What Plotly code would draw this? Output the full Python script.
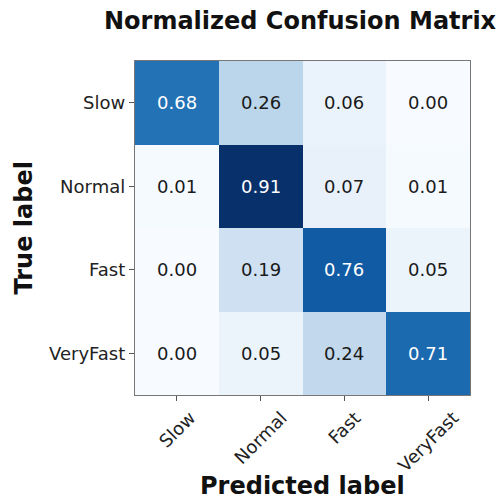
import plotly.graph_objects as go

classes = ["Slow", "Normal", "Fast", "VeryFast"]
matrix = [
    [0.68, 0.26, 0.06, 0.00],
    [0.01, 0.91, 0.07, 0.01],
    [0.00, 0.19, 0.76, 0.05],
    [0.00, 0.05, 0.24, 0.71],
]
title_text = "Normalized Confusion Matrix"
x_title = "Predicted label"
y_title = "True label"

blues = ["#f7fbff", "#deebf7", "#c6dbef", "#9ecae1", "#6baed6",
         "#4292c6", "#2171b5", "#08519c", "#08306b"]
colorscale = [[i / (len(blues) - 1), c] for i, c in enumerate(blues)]

vmax = max(max(r) for r in matrix)
thresh = vmax / 2.0

fig = go.Figure(go.Heatmap(
    z=matrix, x=classes, y=classes,
    colorscale=colorscale, zmin=0, zmax=vmax,
    showscale=False, xgap=0, ygap=0, hoverinfo="skip",
))

font_family = "DejaVu Sans"
annotations = []
for i, row in enumerate(matrix):
    for j, v in enumerate(row):
        annotations.append(dict(
            x=classes[j], y=classes[i], xref="x", yref="y",
            text=f"{v:.2f}", showarrow=False,
            font=dict(family=font_family, size=18,
                      color="white" if v > thresh else "#1a1a1a"),
        ))
for c in classes:
    annotations.append(dict(
        x=c, y=-0.028, xref="x", yref="paper",
        text=c, showarrow=False, textangle=-45,
        xanchor="center", yanchor="top",
        font=dict(family=font_family, size=18, color="#222222"),
    ))
annotations.append(dict(
    x=0.5, y=-0.272, xref="paper", yref="paper", text=f"<b>{x_title}</b>",
    showarrow=False, xanchor="center", yanchor="middle",
    font=dict(family=font_family, size=24, color="#111111"),
))
annotations.append(dict(
    x=-0.33, y=0.5, xref="paper", yref="paper", text=f"<b>{y_title}</b>",
    showarrow=False, textangle=-90, xanchor="center", yanchor="middle",
    font=dict(family=font_family, size=24, color="#111111"),
))
annotations.append(dict(
    x=0.495, y=1.12, xref="paper", yref="paper", text=f"<b>{title_text}</b>",
    showarrow=False, xanchor="center", yanchor="middle",
    font=dict(family=font_family, size=24, color="#111111"),
))

axis_common = dict(
    showgrid=False, zeroline=False, showline=True, linecolor="#777777",
    linewidth=1.3, mirror=True, ticks="outside", ticklen=5, tickwidth=1,
    tickcolor="#555555",
)
fig.update_layout(
    width=499, height=502,
    margin=dict(l=135, r=29, t=61, b=107),
    paper_bgcolor="white", plot_bgcolor="white",
    xaxis=dict(**axis_common, showticklabels=False, type="category",
               categoryorder="array", categoryarray=classes),
    yaxis=dict(**axis_common, showticklabels=True, type="category",
               categoryorder="array", categoryarray=classes,
               autorange="reversed", ticklabelstandoff=0,
               tickfont=dict(family=font_family, size=18, color="#222222")),
    annotations=annotations,
)

fig.write_html("out.html")
